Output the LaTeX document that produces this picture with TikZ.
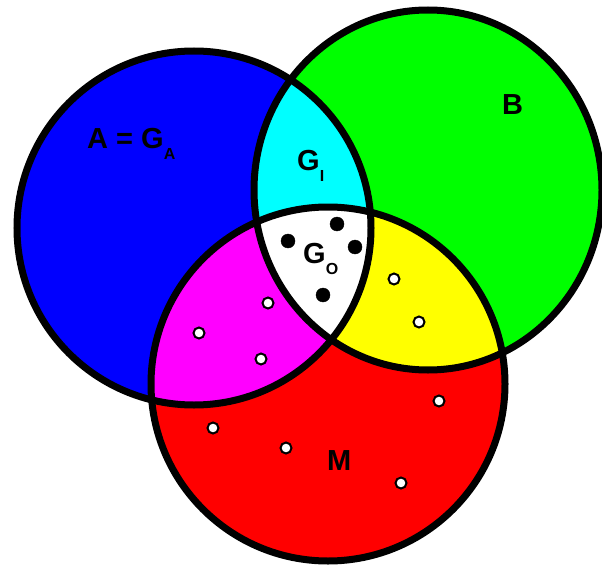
\documentclass[tikz,border=0pt]{standalone}
\usepackage{fontspec}
\setmainfont{Liberation Sans}
\definecolor{setblue}{RGB}{0,0,255}
\definecolor{setgreen}{RGB}{0,255,0}
\definecolor{setred}{RGB}{255,0,0}
\definecolor{setcyan}{RGB}{0,255,255}
\definecolor{setmagenta}{RGB}{255,0,255}
\definecolor{setyellow}{RGB}{255,255,0}
\newcommand{\lowidx}[1]{\raisebox{-11pt}{\fontsize{16}{16}\selectfont #1}}

\begin{document}
\begin{tikzpicture}[x=1pt,y=-1pt,
    lbl/.style={font=\fontsize{29}{34}\selectfont\bfseries,inner sep=0pt,anchor=base west},
    rim/.style={line width=7pt},
    elem/.style={fill=white,draw=black,line width=2pt},
    gen/.style={fill=black}]
  \pgfmathsetmacro{\RadA}{177};
  \pgfmathsetmacro{\RadM}{177};
  \useasboundingbox (0,0) rectangle (602,567);
  %
  \coordinate (A) at (194,228);
  \coordinate (B) at (428,190);
  \coordinate (M) at (328,384);
  %
  % sets
  \fill[setblue] (A) circle ({\RadA pt});
  \fill[setgreen] (B) ellipse (174pt and 180pt);
  \fill[setred] (M) circle ({\RadM pt});
  % overlaps
  \begin{scope}
    \clip (B) ellipse (174pt and 180pt);
    \fill[setyellow] (M) circle ({\RadM pt});
  \end{scope}
  \begin{scope}
    \clip (A) circle ({\RadA pt});
    \fill[setcyan] (B) ellipse (174pt and 180pt);
    \fill[setmagenta] (M) circle ({\RadM pt});
    \clip (B) ellipse (174pt and 180pt);
    \fill[white] (M) circle ({\RadM pt});
  \end{scope}
  % outlines
  \draw[rim] (A) circle ({\RadA pt});
  \draw[rim] (B) ellipse (174pt and 180pt);
  \draw[rim] (M) circle ({\RadM pt});
  % points in G_O
  \draw[gen] (288,241) circle (7pt);
  \draw[gen] (337,224) circle (7pt);
  \draw[gen] (355,247) circle (7pt);
  \draw[gen] (323,295) circle (7pt);
  % other points
  \draw[elem] (268,303) circle (5.5pt);
  \draw[elem] (199,333) circle (5.5pt);
  \draw[elem] (261,359) circle (5.5pt);
  \draw[elem] (394,279) circle (5.5pt);
  \draw[elem] (419,322) circle (5.5pt);
  \draw[elem] (213,428) circle (5.5pt);
  \draw[elem] (286,448) circle (5.5pt);
  \draw[elem] (439,401) circle (5.5pt);
  \draw[elem] (401,483) circle (5.5pt);
  % labels
  \node[lbl] (labA) at (87,148) {A = G\lowidx{A}};
  \node[lbl] (labB) at (502,115) {B};
  \node[lbl] (labGI) at (297,170) {G\lowidx{I}};
  \node[lbl] (labGO) at (303,263) {G\lowidx{O}};
  \node[lbl] (labM) at (327,470) {M};
\end{tikzpicture}
\end{document}
